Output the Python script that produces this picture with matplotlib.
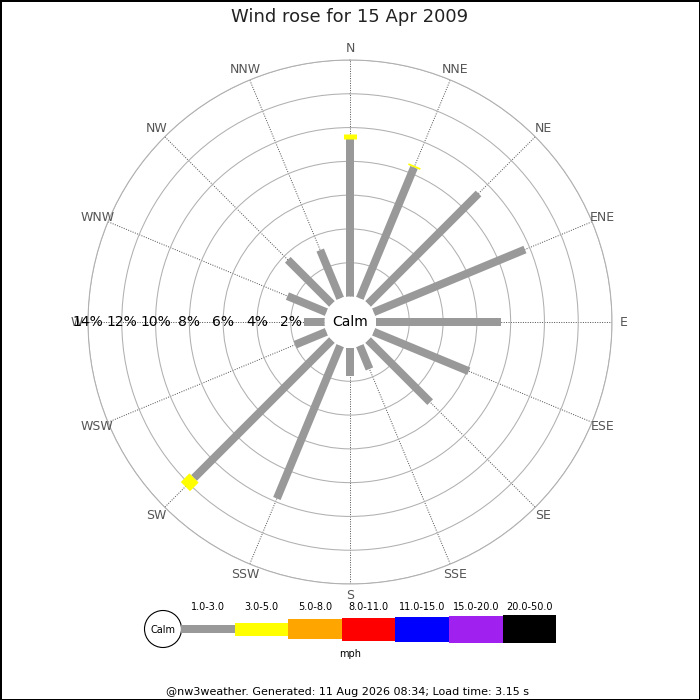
#!/usr/bin/env python
# -*- coding: utf-8 -*-
'''
Wind rose for a single day, drawn on a polar axes with a "calm" hole
in the middle and a speed-class legend underneath.
'''
import numpy as np
import matplotlib
matplotlib.use('Agg')
import matplotlib.pyplot as plt
from matplotlib.patches import Circle, Rectangle

##################################################################
# Data (percent of time, per direction and speed class)
##################################################################
directions = ['N', 'NNE', 'NE', 'ENE', 'E', 'ESE', 'SE', 'SSE',
              'S', 'SSW', 'SW', 'WSW', 'W', 'WNW', 'NW', 'NNW']
speed_bins = ['1.0-3.0', '3.0-5.0', '5.0-8.0', '8.0-11.0',
              '11.0-15.0', '15.0-20.0', '20.0-50.0']
bin_colors = ['#999999', '#ffff00', '#ffa500', '#ff0000',
              '#0000ff', '#a020f0', '#000000']

pct_1_3 = [9.3, 8.4, 9.25, 9.7, 7.4, 6.1, 5.2, 1.5,
           1.7, 9.8, 11.55, 2.0, 1.2, 2.5, 3.7, 3.1]
pct_3_5 = [0.3, 0.1, 0, 0, 0, 0, 0, 0,
           0, 0, 0.72, 0, 0, 0, 0, 0]
pct_5_8 = [0] * 16
pct_8_11 = [0] * 16
pct_11_15 = [0] * 16
pct_15_20 = [0] * 16
pct_20_50 = [0] * 16
series = [pct_1_3, pct_3_5, pct_5_8, pct_8_11, pct_11_15, pct_15_20, pct_20_50]

ring_values = [2, 4, 6, 8, 10, 12, 14]

title = 'Wind rose for 15 Apr 2009'
footer = '@nw3weather. Generated: 11 Aug 2026 08:34; Load time: 3.15 s'

# bar thickness per speed class, in pixels
bar_px = [8, 13, 20, 23, 25, 27, 28]

##################################################################
# Figure + polar axes
##################################################################
W = H = 700
fig = plt.figure(figsize=(7, 7), dpi=100)
fig.patch.set_edgecolor('black')
fig.patch.set_linewidth(2)

cx, cy, R = 350, 322, 262   # centre and outer radius in pixels
calm_px = 25.5
ax = fig.add_axes([(cx - R) / W, 1 - (cy + R) / H, 2 * R / W, 2 * R / H],
                  projection='polar')
ax.set_theta_zero_location('N')
ax.set_theta_direction(-1)
ax.set_ylim(0, 14)
ax.set_rorigin(-14 * calm_px / (R - calm_px))   # room for the calm circle
ax.patch.set_visible(False)

theta = np.deg2rad(np.arange(16) * 22.5)
ax.set_thetagrids(np.arange(16) * 22.5, labels=[''] * 16)
ax.set_rgrids(ring_values, labels=[''] * len(ring_values))
ax.xaxis.grid(True, color='#555555', linestyle=(0, (1, 1.4)), linewidth=0.72)
ax.yaxis.grid(True, color='#b0b0b0', linestyle='-', linewidth=0.75)
ax.spines['polar'].set_color('#b0b0b0')
ax.spines['polar'].set_linewidth(0.75)
# polar draw() switches the inner spine back on, so make it invisible instead
ax.spines['inner'].set_color('none')
ax.spines['inner'].set_linewidth(0)
ax.tick_params(length=0)

# stacked radial bars
base = np.zeros(16)
for vals, col, w in zip(series, bin_colors, bar_px):
    vals = np.asarray(vals, dtype=float)
    for t, b, v in zip(theta, base, vals):
        if v > 0:
            ax.plot([t, t], [b, b + v], color=col, lw=w * 0.72,
                    solid_capstyle='butt', zorder=3)
    base += vals

# compass labels
for t, name in zip(theta, directions):
    ax.text(t, 14.68, name, ha='center', va='center', color='#555555',
            fontsize=9, clip_on=False)

# percent ring labels along the west axis
for r in ring_values:
    ax.text(np.deg2rad(270), r, '%d%%' % r, ha='center', va='center',
            fontsize=10, color='black', zorder=4, clip_on=False)

fig.text(cx / W, 1 - cy / H, 'Calm', ha='center', va='center', fontsize=10,
         zorder=6)
fig.text(0.5, 1 - 17 / H, title, ha='center', va='center', fontsize=13,
         color='#222222')

##################################################################
# Legend
##################################################################
lx0, lx1, ly0, ly1 = 140, 570, 595, 665
lax = fig.add_axes([lx0 / W, 1 - ly1 / H, (lx1 - lx0) / W, (ly1 - ly0) / H])
lax.set_xlim(lx0, lx1)
lax.set_ylim(ly1, ly0)
lax.axis('off')

ly = 629
lax.add_patch(Circle((163, ly), 18.5, facecolor='white', edgecolor='black',
                     lw=0.8))
lax.text(163, ly + 1, 'Calm', ha='center', va='center', fontsize=7)
seg_x, seg_w = 181, 53.6
for i, (lab, col, h) in enumerate(zip(speed_bins, bin_colors, bar_px)):
    x = seg_x + i * seg_w
    lax.add_patch(Rectangle((x, ly - h / 2), seg_w, h, facecolor=col,
                            edgecolor='none'))
    lax.text(x + seg_w / 2, 607, lab, ha='center', va='center', fontsize=7)

fig.text(350 / W, 1 - 654 / H, 'mph', ha='center', va='center', fontsize=7)
fig.text(348 / W, 1 - 692 / H, footer, ha='center', va='center', fontsize=8)

fig.savefig('out.png', dpi=100)
plt.close(fig)
